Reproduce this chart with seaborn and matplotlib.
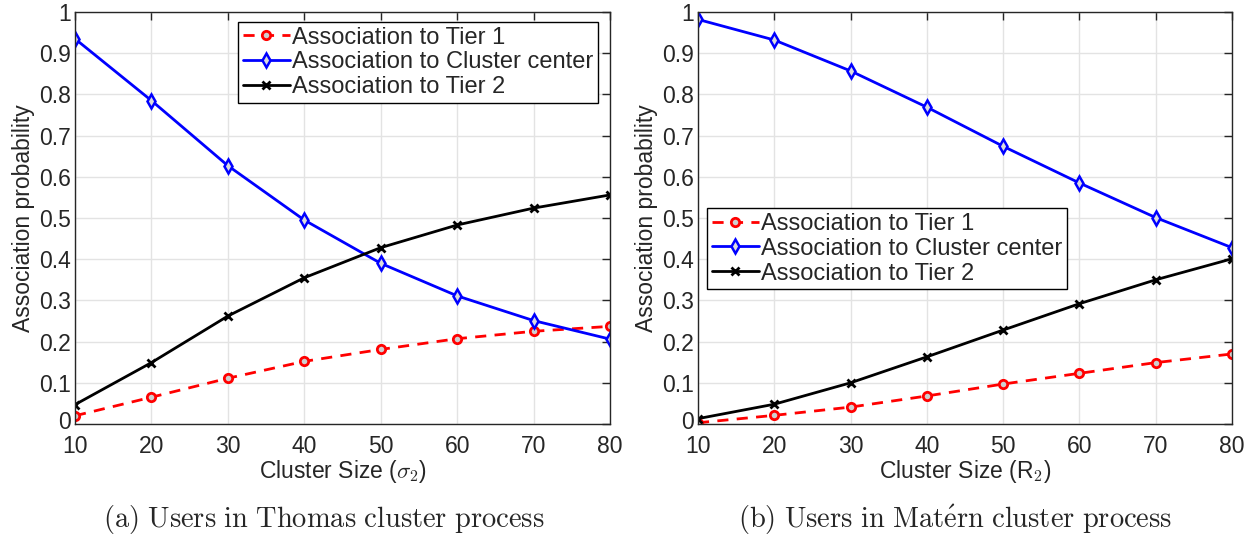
import numpy as np
import pandas as pd
import matplotlib
matplotlib.use("Agg")
import matplotlib.pyplot as plt
import matplotlib.transforms as mtransforms
import seaborn as sns

cluster_size = [10, 20, 30, 40, 50, 60, 70, 80]

thomas_tier1 = [0.020, 0.065, 0.111, 0.152, 0.181, 0.207, 0.225, 0.237]
thomas_center = [0.935, 0.785, 0.627, 0.495, 0.390, 0.311, 0.251, 0.206]
thomas_tier2 = [0.047, 0.149, 0.262, 0.355, 0.428, 0.483, 0.524, 0.556]

matern_tier1 = [0.003, 0.021, 0.041, 0.068, 0.097, 0.123, 0.149, 0.170]
matern_center = [0.982, 0.932, 0.857, 0.769, 0.674, 0.585, 0.501, 0.428]
matern_tier2 = [0.013, 0.048, 0.100, 0.163, 0.228, 0.292, 0.350, 0.401]

series_names = ["Association to Tier 1", "Association to Cluster center", "Association to Tier 2"]
y_ticks = [0, 0.1, 0.2, 0.3, 0.4, 0.5, 0.6, 0.7, 0.8, 0.9, 1]
y_tick_labels = ["0", "0.1", "0.2", "0.3", "0.4", "0.5", "0.6", "0.7", "0.8", "0.9", "1"]
x_ticks = cluster_size

sns.set_style("white")
plt.rcParams['font.family'] = ['Liberation Sans', 'DejaVu Sans']
plt.rcParams['mathtext.fontset'] = 'cm'

fig = plt.figure(figsize=(12.51, 5.42), dpi=100)
ax1 = fig.add_axes([75/1251, 1-424/542, 535/1251, 412/542])
ax2 = fig.add_axes([698/1251, 1-424/542, 534/1251, 412/542])

styles = [
    dict(color="red", linestyle=(0, (4, 3)), marker="o", markersize=6, markerfacecolor="#cfcfcf",
         markeredgecolor="red", markeredgewidth=2),
    dict(color="blue", linestyle="-", marker="d", markersize=7, markerfacecolor="#dcdcdc",
         markeredgecolor="blue", markeredgewidth=1.8),
    dict(color="black", linestyle="-", marker="x", markersize=6, markeredgewidth=2,
         markeredgecolor="black"),
]

def draw(ax, data, xlabel, legend_kw):
    for name, vals, st in zip(series_names, data, styles):
        df = pd.DataFrame({"x": cluster_size, "y": vals})
        sns.lineplot(data=df, x="x", y="y", ax=ax, label=name, linewidth=2, **st)
    ax.set_xlim(10, 80)
    ax.set_ylim(0, 1)
    ax.set_xticks(x_ticks)
    ax.set_yticks(y_ticks)
    ax.set_yticklabels(y_tick_labels)
    ax.grid(True, color="#e3e3e3", linewidth=1)
    ax.tick_params(direction="in", length=6, width=1, top=True, right=True,
                   labelsize=16.5, colors="#262626", pad=3)
    ax.tick_params(axis="x", pad=8)
    # lift the "0" label a little, as in the reference
    lbl0 = ax.get_yticklabels()[0]
    lbl0.set_transform(lbl0.get_transform() +
                       mtransforms.ScaledTranslation(0, 4/100, fig.dpi_scale_trans))
    for sp in ax.spines.values():
        sp.set_visible(True)
        sp.set_color("#262626")
        sp.set_linewidth(1)
    ax.set_xlabel(xlabel, fontsize=16.5, color="#262626", labelpad=0)
    ax.set_ylabel("Association probability", fontsize=16.5, color="#262626", labelpad=3)
    leg = ax.legend(fontsize=17, frameon=True, fancybox=False, edgecolor="black",
                    borderpad=0.2, labelspacing=0.12, handlelength=2.0, handletextpad=0.1,
                    borderaxespad=0, **legend_kw)
    leg.get_frame().set_linewidth(1)
    leg.get_frame().set_alpha(1)

draw(ax1, [thomas_tier1, thomas_center, thomas_tier2], r"Cluster Size ($\sigma_2$)",
     dict(loc="upper right", bbox_to_anchor=(0.978, 0.976)))
draw(ax2, [matern_tier1, matern_center, matern_tier2], r"Cluster Size (R$_2$)",
     dict(loc="upper left", bbox_to_anchor=(0.017, 0.524)))

fig.text((75+610)/2/1251 - 0.015, 1-520/542, r"$\mathrm{(a)\ Users\ in\ Thomas\ cluster\ process}$",
         ha="center", va="center", fontsize=20.5)
fig.text((698+1232)/2/1251 - 0.008, 1-520/542, r"$\mathrm{(b)\ Users\ in\ Mat\acute{e}rn\ cluster\ process}$",
         ha="center", va="center", fontsize=20.5)

fig.savefig("out.png", dpi=100)
